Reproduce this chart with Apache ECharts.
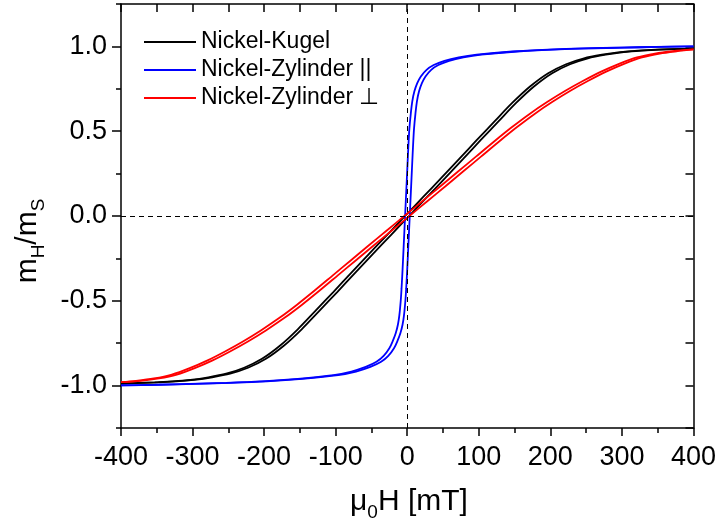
<!DOCTYPE html>
<html>
<head>
<meta charset="utf-8">
<script src="https://cdn.jsdelivr.net/npm/echarts@6/dist/echarts.min.js"></script>
<style>
  html, body { margin: 0; padding: 0; background: #fff; }
  #chart { width: 719px; height: 525px; }
</style>
</head>
<body>
<div id="chart"></div>
<script>
// Hysteresis loops of nickel samples: normalised moment m_H/m_S vs. applied field mu0*H (mT).
// Each loop is stored as its two branches: field decreasing from +400 mT, field increasing from -400 mT.

var seriesNames = ['Nickel-Kugel', 'Nickel-Zylinder ||', 'Nickel-Zylinder \u22A5'];

var xTickValues = [-400, -300, -200, -100, 0, 100, 200, 300, 400];
var yTickValues = [-1.0, -0.5, 0.0, 0.5, 1.0];
var yMinorTickValues = [-1.25, -0.75, -0.25, 0.25, 0.75, 1.25];

// Sphere
var kugelDown = [
  [400, 0.987], [347, 0.981], [322, 0.975], [297, 0.966], [272, 0.951], [247, 0.93],
  [222, 0.895], [197, 0.842], [172, 0.765], [147, 0.668], [122, 0.558], [97, 0.447],
  [72, 0.334], [47, 0.222], [22, 0.111], [-3, 0], [-28, -0.111], [-53, -0.222],
  [-78, -0.334], [-103, -0.447], [-128, -0.558], [-153, -0.668], [-178, -0.765],
  [-203, -0.842], [-228, -0.895], [-253, -0.93], [-278, -0.951], [-303, -0.966],
  [-328, -0.975], [-353, -0.981], [-400, -0.988]
];
var kugelUp = [
  [-400, -0.988], [-347.5, -0.981], [-322.5, -0.975], [-297.5, -0.966], [-272.5, -0.951],
  [-247.5, -0.93], [-222.5, -0.895], [-197.5, -0.842], [-172.5, -0.765], [-147.5, -0.668],
  [-122.5, -0.558], [-97.5, -0.447], [-72.5, -0.334], [-47.5, -0.222], [-22.5, -0.111],
  [2.5, 0], [27.5, 0.111], [52.5, 0.222], [77.5, 0.334], [102.5, 0.447], [127.5, 0.558],
  [152.5, 0.668], [177.5, 0.765], [202.5, 0.842], [227.5, 0.895], [252.5, 0.93],
  [277.5, 0.951], [302.5, 0.966], [327.5, 0.975], [352.5, 0.981], [400, 0.987]
];

// Cylinder, field parallel to axis
var zylParDown = [
  [400, 1.0], [347, 0.997], [297, 0.993], [247, 0.988], [197, 0.981], [147, 0.97],
  [97, 0.951], [72, 0.935], [52, 0.915], [37, 0.89], [27, 0.862], [19, 0.823],
  [14, 0.783], [10, 0.735], [7, 0.675], [5, 0.605], [3, 0.515], [2, 0.445], [1, 0.36],
  [0, 0.27], [-1, 0.18], [-2, 0.09], [-3, 0], [-4, -0.09], [-5, -0.18], [-6, -0.27],
  [-7, -0.355], [-8, -0.43], [-9, -0.495], [-11, -0.585], [-13, -0.64], [-16, -0.69],
  [-20, -0.735], [-25, -0.78], [-33, -0.825], [-43, -0.86], [-58, -0.89], [-78, -0.917],
  [-103, -0.938], [-153, -0.96], [-203, -0.975], [-253, -0.984], [-303, -0.99],
  [-353, -0.995], [-400, -0.999]
];
var zylParUp = [
  [-400, -0.999], [-346.5, -0.995], [-296.5, -0.99], [-246.5, -0.984], [-196.5, -0.975],
  [-146.5, -0.96], [-96.5, -0.938], [-71.5, -0.917], [-51.5, -0.89], [-36.5, -0.86],
  [-26.5, -0.825], [-18.5, -0.78], [-13.5, -0.735], [-9.5, -0.69], [-6.5, -0.64],
  [-4.5, -0.585], [-2.5, -0.495], [-1.5, -0.43], [-0.5, -0.355], [0.5, -0.27], [1.5, -0.18],
  [2.5, -0.09], [3.5, 0], [4.5, 0.09], [5.5, 0.18], [6.5, 0.27], [7.5, 0.36], [8.5, 0.445],
  [9.5, 0.515], [11.5, 0.605], [13.5, 0.675], [16.5, 0.735], [20.5, 0.783], [25.5, 0.823],
  [33.5, 0.862], [43.5, 0.89], [58.5, 0.915], [78.5, 0.935], [103.5, 0.951], [153.5, 0.97],
  [203.5, 0.981], [253.5, 0.988], [303.5, 0.993], [353.5, 0.997], [400, 1.0]
];

// Cylinder, field perpendicular to axis
var zylSenkDown = [
  [400, 0.982], [371, 0.972], [346, 0.958], [321, 0.935], [296, 0.897], [271, 0.851],
  [246, 0.797], [221, 0.738], [196, 0.673], [171, 0.602], [146, 0.523], [121, 0.438],
  [96, 0.35], [71, 0.262], [46, 0.174], [21, 0.087], [-4, 0], [-29, -0.087],
  [-54, -0.174], [-79, -0.262], [-104, -0.35], [-129, -0.438], [-154, -0.523],
  [-179, -0.602], [-204, -0.673], [-229, -0.738], [-254, -0.797], [-279, -0.851],
  [-304, -0.897], [-329, -0.935], [-354, -0.958], [-379, -0.972], [-400, -0.98]
];
var zylSenkUp = [
  [-400, -0.98], [-372, -0.972], [-347, -0.958], [-322, -0.935], [-297, -0.897],
  [-272, -0.851], [-247, -0.797], [-222, -0.738], [-197, -0.673], [-172, -0.602],
  [-147, -0.523], [-122, -0.438], [-97, -0.35], [-72, -0.262], [-47, -0.174],
  [-22, -0.087], [3, 0], [28, 0.087], [53, 0.174], [78, 0.262], [103, 0.35],
  [128, 0.438], [153, 0.523], [178, 0.602], [203, 0.673], [228, 0.738], [253, 0.797],
  [278, 0.851], [303, 0.897], [328, 0.935], [353, 0.958], [378, 0.972], [400, 0.982]
];

var colors = ['#000000', '#0000ff', '#ff0000'];
var FONT = "'Liberation Sans', Arial, Helvetica, sans-serif";

function branch(name, data, color) {
  return {
    name: name,
    type: 'line',
    data: data,
    xAxisIndex: 0,
    yAxisIndex: 0,
    symbol: 'none',
    smooth: 0.3,
    color: color,
    lineStyle: { color: color, width: 1.8 },
    z: 3
  };
}

var chart = echarts.init(document.getElementById('chart'), null, { renderer: 'canvas' });

var axisLineStyle = { color: '#000', width: 1.5 };

chart.setOption({
  animation: false,
  backgroundColor: '#ffffff',
  grid: { left: 121, right: 23, top: 4, bottom: 97, containLabel: false },
  legend: {
    data: seriesNames,
    orient: 'vertical',
    left: 143,
    top: 30,
    padding: 0,
    itemWidth: 52,
    itemHeight: 12,
    itemGap: 4,
    itemStyle: { opacity: 0 },
    textStyle: { fontSize: 23, lineHeight: 24, color: '#000', fontFamily: FONT },
    selectedMode: false
  },
  xAxis: [
    {
      type: 'value', position: 'bottom', min: -400, max: 400, interval: 100,
      axisLine: { onZero: false, lineStyle: axisLineStyle },
      axisTick: { inside: false, length: 8, lineStyle: axisLineStyle },
      minorTick: { show: true, splitNumber: 2, length: 5, lineStyle: axisLineStyle },
      axisLabel: {
        customValues: xTickValues,
        fontSize: 27, color: '#000', fontFamily: FONT, margin: 16
      },
      splitLine: { show: false }, minorSplitLine: { show: false }
    },
    {
      type: 'value', position: 'top', min: -400, max: 400, interval: 50,
      axisLine: { onZero: false, lineStyle: axisLineStyle },
      axisTick: { inside: true, length: 8, lineStyle: axisLineStyle },
      axisLabel: { show: false },
      splitLine: { show: false }
    }
  ],
  yAxis: [
    {
      type: 'value', position: 'left', min: -1.25, max: 1.25,
      axisLine: { onZero: false, lineStyle: axisLineStyle },
      axisTick: { inside: false, length: 9, customValues: yTickValues, lineStyle: axisLineStyle },
      axisLabel: {
        customValues: yTickValues,
        formatter: function (v) { return v.toFixed(1); },
        fontSize: 27, color: '#000', fontFamily: FONT, margin: 14
      },
      splitLine: { show: false }
    },
    {
      type: 'value', position: 'right', min: -1.25, max: 1.25, interval: 0.25,
      axisLine: { onZero: false, lineStyle: axisLineStyle },
      axisTick: { inside: true, length: 8, lineStyle: axisLineStyle },
      axisLabel: { show: false },
      splitLine: { show: false }
    },
    {
      type: 'value', position: 'left', min: -1.25, max: 1.25,
      axisLine: { show: false, onZero: false },
      axisTick: { inside: false, length: 5, customValues: yMinorTickValues, lineStyle: axisLineStyle },
      axisLabel: { show: false },
      splitLine: { show: false }
    }
  ],
  graphic: [
    {
      type: 'text',
      x: 409, y: 502,
      style: {
        text: '{a|\u03BC}{s|0}{a|H [mT]}',
        align: 'center', verticalAlign: 'middle',
        textAlign: 'center', textVerticalAlign: 'middle',
        fill: '#000',
        rich: {
          a: { fontSize: 30, fontFamily: FONT, lineHeight: 40, verticalAlign: 'middle', fill: '#000' },
          s: { fontSize: 19, fontFamily: FONT, lineHeight: 19, verticalAlign: 'bottom', fill: '#000' }
        }
      }
    },
    {
      type: 'text',
      x: 28, y: 241,
      rotation: Math.PI / 2,
      style: {
        text: '{a|m}{s|H}{a|/m}{s|S}',
        align: 'center', verticalAlign: 'middle',
        textAlign: 'center', textVerticalAlign: 'middle',
        fill: '#000',
        rich: {
          a: { fontSize: 30, fontFamily: FONT, lineHeight: 40, verticalAlign: 'middle', fill: '#000' },
          s: { fontSize: 19, fontFamily: FONT, lineHeight: 19, verticalAlign: 'bottom', fill: '#000' }
        }
      }
    }
  ],
  series: [
    {
      name: 'zero-lines',
      type: 'line',
      data: [],
      xAxisIndex: 0,
      yAxisIndex: 0,
      z: 1,
      markLine: {
        silent: true,
        symbol: ['none', 'none'],
        label: { show: false },
        lineStyle: { color: '#000', type: [5, 4], width: 1 },
        emphasis: { disabled: true },
        data: [{ xAxis: 0 }, { yAxis: 0 }]
      }
    },
    branch(seriesNames[0], kugelDown, colors[0]),
    branch(seriesNames[0], kugelUp, colors[0]),
    branch(seriesNames[1], zylParDown, colors[1]),
    branch(seriesNames[1], zylParUp, colors[1]),
    branch(seriesNames[2], zylSenkDown, colors[2]),
    branch(seriesNames[2], zylSenkUp, colors[2])
  ]
});
</script>
</body>
</html>
